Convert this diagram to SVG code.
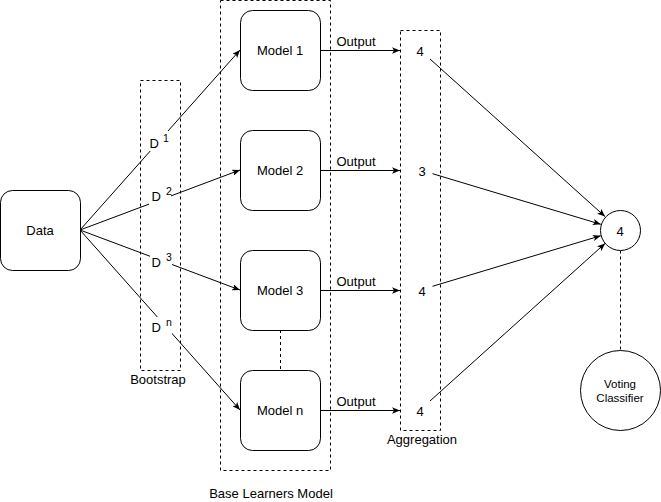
<svg xmlns="http://www.w3.org/2000/svg" width="661" height="502" viewBox="0 0 661 502">
<defs>
<marker id="arr" viewBox="0 0 10 8" refX="10" refY="4" markerWidth="8" markerHeight="6.4" markerUnits="userSpaceOnUse" orient="auto">
<path d="M0,0 L10,4 L0,8 L2.5,4 z" fill="#000"/>
</marker>
<style>
text{font-family:"Liberation Sans",Arial,Helvetica,sans-serif;font-size:13px;fill:#000}
.c{text-anchor:middle}
.sup{font-size:10.5px}
.box{fill:#fff;stroke:#000;stroke-width:1}
.dash{fill:none;stroke:#000;stroke-width:1;stroke-dasharray:3 3}
.edge{fill:none;stroke:#000;stroke-width:1;marker-end:url(#arr)}
.dline{fill:none;stroke:#000;stroke-width:1;stroke-dasharray:3 3}
.bg{fill:#fff;stroke:none}
.small{font-size:11.5px}
</style>
</defs>
<rect width="661" height="502" fill="#fff"/>

<g id="containers">
<g id="bootstrap"><rect class="dash" x="140.5" y="80.5" width="40" height="290"/><text class="c" x="158" y="384">Bootstrap</text></g>
<g id="base-learners"><rect class="dash" x="220.5" y="0.5" width="110" height="470"/><text class="c" x="271" y="497.5">Base Learners Model</text></g>
<g id="aggregation"><rect class="dash" x="400.5" y="30.5" width="40" height="400"/><text class="c" x="422" y="444">Aggregation</text></g>
</g>

<g id="connectors">
<path class="edge" d="M80,230 L240,50"/>
<path class="edge" d="M80,230 L240,170"/>
<path class="edge" d="M80,230 L240,290"/>
<path class="edge" d="M80,230 L240,410"/>
<rect class="bg" x="149" y="131" width="21" height="20"/>
<rect class="bg" x="149" y="187" width="22" height="18"/>
<rect class="bg" x="150" y="252" width="22" height="18"/>
<rect class="bg" x="151" y="317" width="21" height="18"/>
<text x="149.5" y="148">D <tspan class="sup" x="163" y="142">1</tspan></text>
<text x="151.5" y="201">D <tspan class="sup" x="166" y="195">2</tspan></text>
<text x="151.5" y="267">D <tspan class="sup" x="166" y="261">3</tspan></text>
<text x="151.5" y="332">D <tspan class="sup" x="166" y="326">n</tspan></text>

<path class="edge" d="M320,50.5 L400,50.5"/>
<path class="edge" d="M320,170.5 L400,170.5"/>
<path class="edge" d="M320,290.5 L400,290.5"/>
<path class="edge" d="M320,410.5 L400,410.5"/>
<text class="c" x="356" y="46">Output</text>
<text class="c" x="356" y="166">Output</text>
<text class="c" x="356" y="286">Output</text>
<text class="c" x="356" y="406">Output</text>

<path class="edge" d="M430,59 L605.1,216.6"/>
<path class="edge" d="M432.5,173.7 L600.8,224.3"/>
<path class="edge" d="M432.5,286.3 L600.8,235.7"/>
<path class="edge" d="M430,401 L605.1,243.4"/>

<path class="dline" d="M280.5,330 L280.5,370"/>
<path class="dline" d="M620.5,250.5 L620.5,350"/>
</g>

<g id="data"><rect class="box" x="0.5" y="190.5" width="80" height="80" rx="12"/><text class="c" x="40" y="235">Data</text></g>
<g id="model1"><rect class="box" x="240.5" y="10.5" width="80" height="80" rx="12"/><text class="c" x="280" y="55">Model 1</text></g>
<g id="model2"><rect class="box" x="240.5" y="130.5" width="80" height="80" rx="12"/><text class="c" x="280" y="175">Model 2</text></g>
<g id="model3"><rect class="box" x="240.5" y="250.5" width="80" height="80" rx="12"/><text class="c" x="280" y="295">Model 3</text></g>
<g id="modeln"><rect class="box" x="240.5" y="370.5" width="80" height="80" rx="12"/><text class="c" x="280" y="415">Model n</text></g>

<g id="agg-values">
<text class="c" x="420" y="56">4</text>
<text class="c" x="422" y="176">3</text>
<text class="c" x="422" y="296">4</text>
<text class="c" x="420" y="416">4</text>
</g>

<g id="result"><circle class="box" cx="620.5" cy="230.5" r="20"/><text class="c" x="620" y="235.5">4</text></g>
<g id="voting"><circle class="box" cx="620.5" cy="390.5" r="40"/><text class="c small" x="620" y="388">Voting</text><text class="c small" x="620" y="402">Classifier</text></g>
</svg>
